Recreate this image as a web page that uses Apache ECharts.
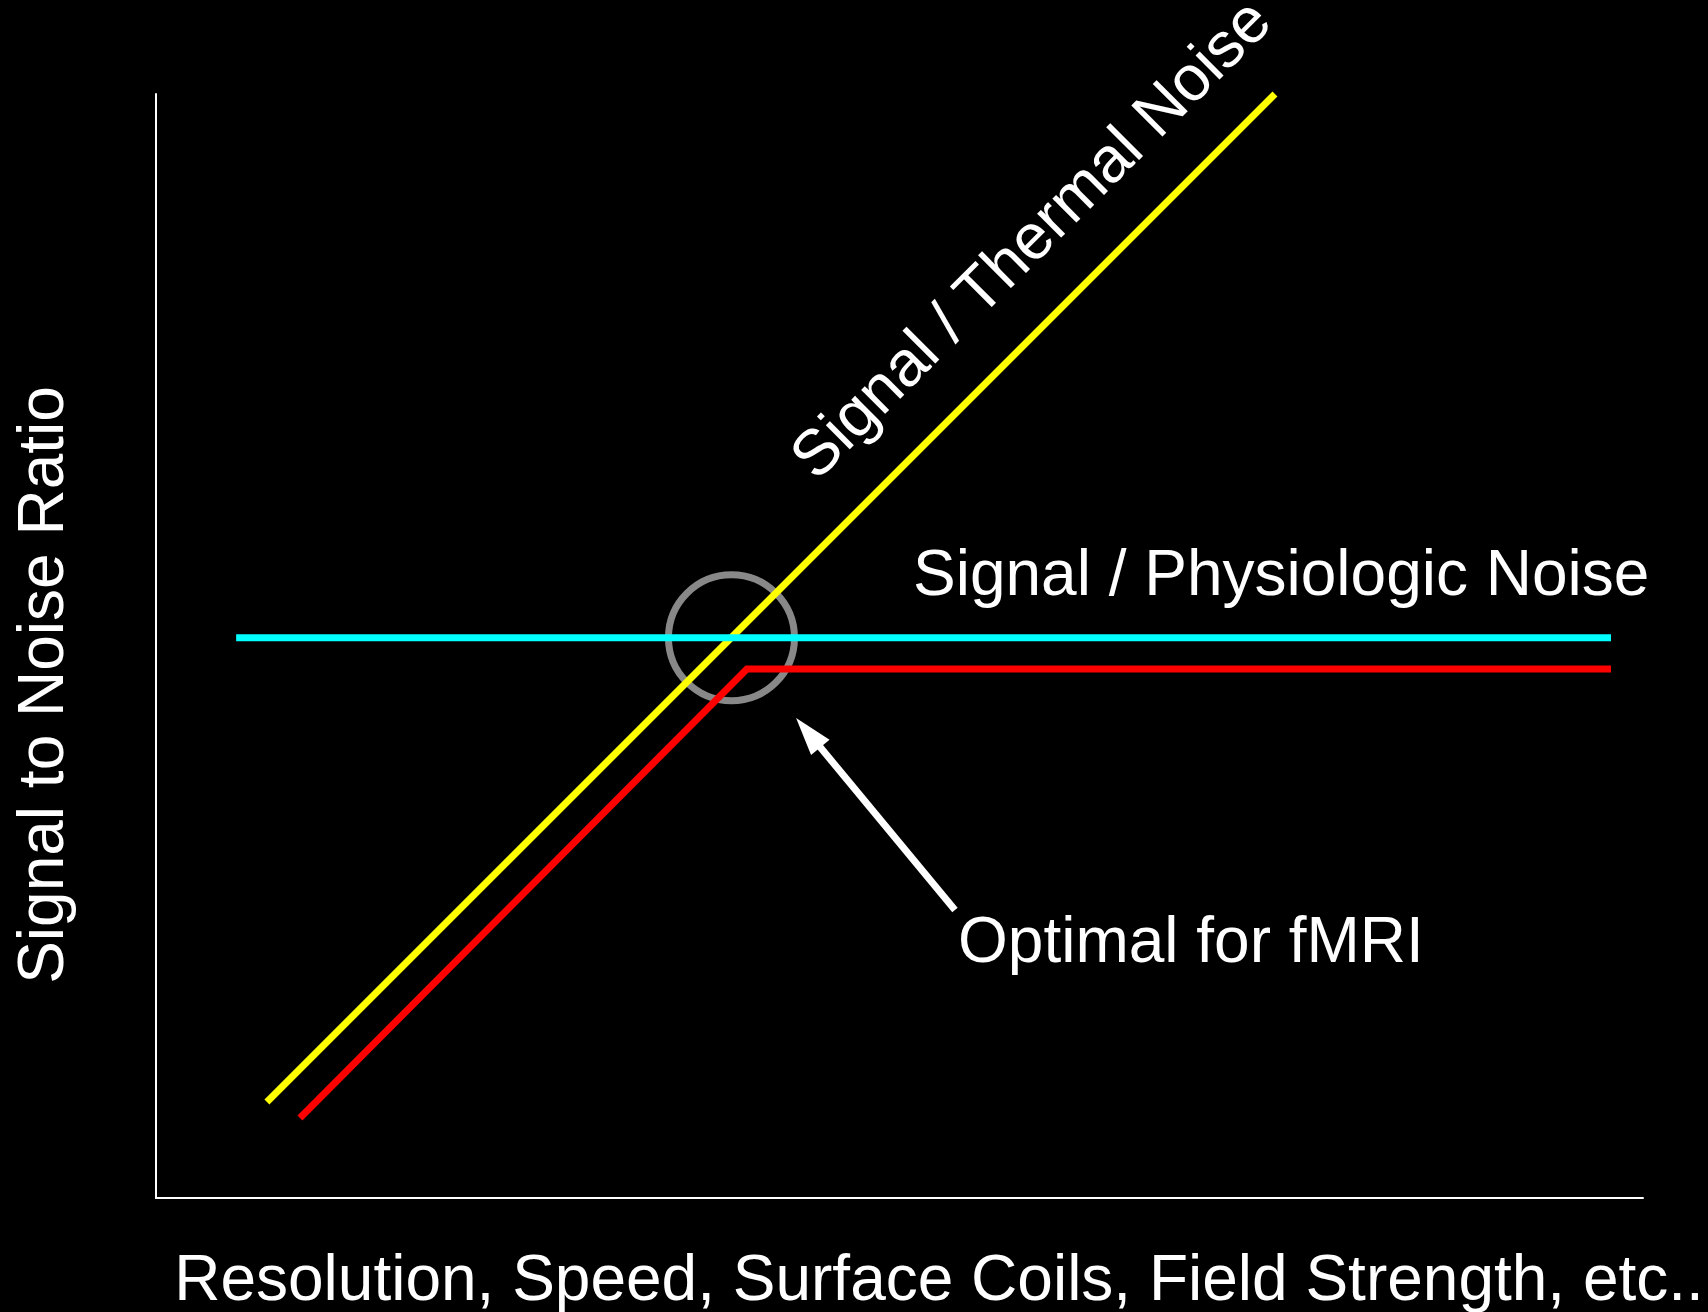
<!DOCTYPE html>
<html>
<head>
<meta charset="utf-8">
<title>SNR vs resolution</title>
<script src="https://cdn.jsdelivr.net/npm/echarts@6/dist/echarts.min.js"></script>
<style>
  html, body { margin: 0; padding: 0; background: #000; }
  #main { width: 1708px; height: 1312px; }
</style>
</head>
<body>
<div id="main"></div>
<script>
// curves (x and y both on a 0..100 scale)
var thermalX = [7.46, 75.25];
var thermalY = [8.7, 100];
var physioX = [5.39, 97.85];
var physioY = [50.75, 50.75];
var totalX = [9.68, 39.74, 97.85];
var totalY = [7.25, 47.92, 47.92];
// circled optimum and the arrow pointing at it
var optimum = [38.7, 50.75];
var arrowFrom = [53.73, 26.09];
var arrowTo = [43.56, 42.64];

var xTitle = 'Resolution, Speed, Surface Coils, Field Strength, etc..';
var yTitle = 'Signal to Noise Ratio';
var thermalText = 'Signal / Thermal Noise';
var physioText = 'Signal / Physiologic Noise';
var optimumText = 'Optimal for fMRI';

var FONT = '"Liberation Sans", Helvetica, Arial, sans-serif';

function pairs(xs, ys) {
	var out = [];
	for (var i = 0; i < xs.length; i++) {
		out.push([xs[i], ys[i]]);
	}
	return out;
}

function bareAxis(name, extra) {
	var axis = {
		type: 'value',
		min: 0,
		max: 100,
		name: name,
		nameLocation: 'middle',
		axisLine: { show: true, lineStyle: { color: '#fff', width: 2 } },
		axisTick: { show: false },
		axisLabel: { show: false },
		splitLine: { show: false }
	};
	for (var k in extra) axis[k] = extra[k];
	return axis;
}

var chart = echarts.init(document.getElementById('main'));
chart.setOption({
	backgroundColor: '#000',
	animation: false,
	// fixed box, the axis titles may run to the page edge
	grid: { left: 156, right: 65, top: 94, bottom: 114, containLabel: false, outerBoundsMode: 'none' },
	xAxis: bareAxis(xTitle, {
		nameGap: 52,
		nameTextStyle: { color: '#fff', fontSize: 64, fontFamily: FONT, padding: [0, 0, 0, 79] }
	}),
	yAxis: bareAxis(yTitle, {
		nameGap: 79,
		nameRotate: 90,
		nameTextStyle: { color: '#fff', fontSize: 64, fontFamily: FONT, padding: [0, 78, 0, 0] }
	}),
	series: [{
		name: 'thermal',
		type: 'line',
		data: pairs(thermalX, thermalY),
		symbol: 'none',
		clip: false,
		lineStyle: { color: '#ffff00', width: 7 }
	}, {
		name: 'physio',
		type: 'line',
		data: pairs(physioX, physioY),
		symbol: 'none',
		clip: false,
		lineStyle: { color: '#00ffff', width: 7 }
	}, {
		name: 'total',
		type: 'line',
		data: pairs(totalX, totalY),
		symbol: 'none',
		clip: false,
		lineStyle: { color: '#ff0000', width: 7, join: 'miter' }
	}, {
		name: 'optimum',
		type: 'scatter',
		data: [optimum],
		symbol: 'circle',
		symbolSize: 126,
		silent: true,
		itemStyle: { color: 'transparent', borderColor: '#aaaaaa', borderWidth: 7 },
		markLine: {
			silent: true,
			symbol: ['none', 'triangle'],
			symbolSize: [24, 38],
			symbolOffset: [0, [0, 7]],
			label: { show: false },
			lineStyle: { color: '#fff', width: 7, type: 'solid' },
			data: [[{ coord: arrowFrom }, { coord: arrowTo }]]
		}
	}],
	graphic: [{
		type: 'text',
		x: 1033,
		y: 241,
		rotation: Math.PI / 4,
		style: {
			text: thermalText, fill: '#fff', font: '64px ' + FONT,
			align: 'center', verticalAlign: 'middle'
		}
	}, {
		type: 'text',
		x: 913,
		y: 577,
		style: {
			text: physioText, fill: '#fff', font: '64px ' + FONT,
			align: 'left', verticalAlign: 'middle'
		}
	}, {
		type: 'text',
		x: 958,
		y: 944,
		style: {
			text: optimumText, fill: '#fff', font: '64px ' + FONT,
			align: 'left', verticalAlign: 'middle'
		}
	}]
});
</script>
</body>
</html>
